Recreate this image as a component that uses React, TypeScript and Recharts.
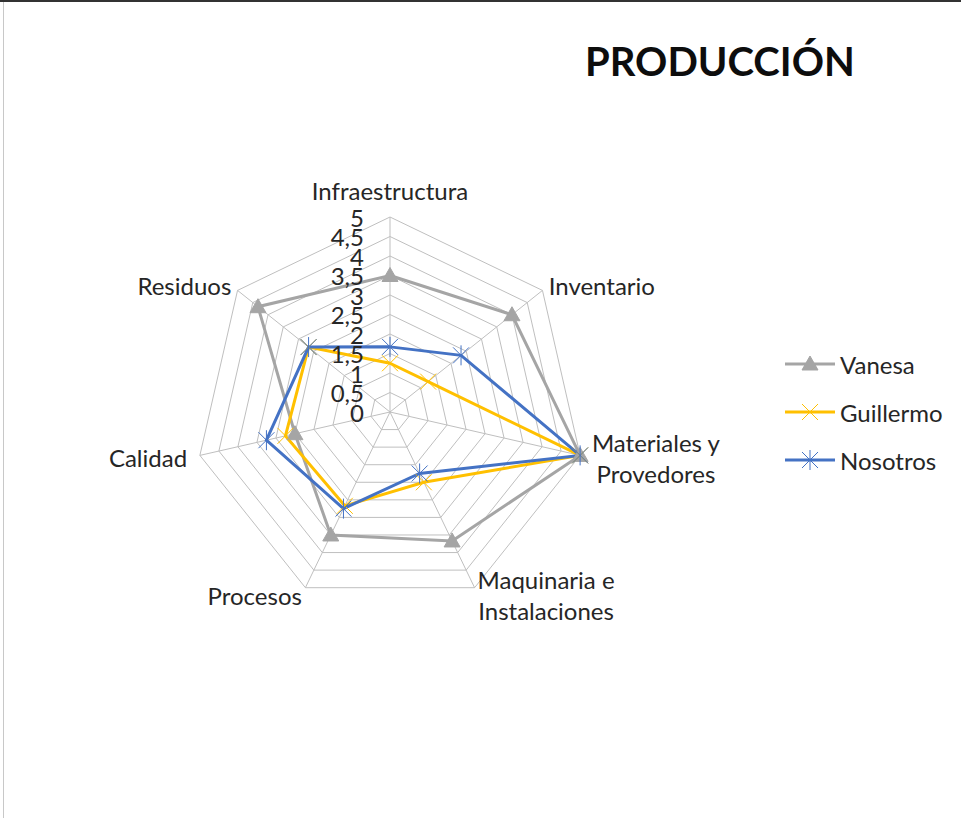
import React from "react";
import {
  RadarChart,
  Radar,
  PolarGrid,
  PolarAngleAxis,
  PolarRadiusAxis,
  Legend,
} from "recharts";

const categories = [
  "Infraestructura",
  "Inventario",
  "Materiales y Provedores",
  "Maquinaria e Instalaciones",
  "Procesos",
  "Calidad",
  "Residuos",
];
const vanesa = [3.5, 4, 5, 3.67, 3.5, 2.5, 4.33];
const guillermo = [1.25, 1.25, 5, 2, 2.67, 2.75, 2.67];
const nosotros = [1.67, 2.33, 5, 1.75, 2.75, 3.25, 2.67];
const radiusTicks = [0, 0.5, 1, 1.5, 2, 2.5, 3, 3.5, 4, 4.5, 5];

const labelLines: Record<string, string[]> = {
  "Materiales y Provedores": ["Materiales y", "Provedores"],
  "Maquinaria e Instalaciones": ["Maquinaria e", "Instalaciones"],
};

const data = categories.map((c, i) => ({
  subject: c,
  Vanesa: vanesa[i],
  Guillermo: guillermo[i],
  Nosotros: nosotros[i],
}));

const FONT = "Lato, 'Open Sans', sans-serif";
const TEXT_SIZE = 24;
const GREY = "#a5a5a5";
const YELLOW = "#ffc000";
const BLUE = "#4472c4";

const TriangleDot = (props: any) => {
  const { cx, cy, key } = props;
  if (cx == null || cy == null) return <g key={key} />;
  return (
    <path
      key={key}
      d={`M${cx},${cy - 8} L${cx + 8},${cy + 6} L${cx - 8},${cy + 6} Z`}
      fill={GREY}
      stroke={GREY}
    />
  );
};

const CrossDot = (props: any) => {
  const { cx, cy, key } = props;
  if (cx == null || cy == null) return <g key={key} />;
  const s = 8;
  return (
    <g key={key} stroke={YELLOW} strokeWidth={1}>
      <line x1={cx - s} y1={cy - s} x2={cx + s} y2={cy + s} />
      <line x1={cx - s} y1={cy + s} x2={cx + s} y2={cy - s} />
    </g>
  );
};

const StarDot = (props: any) => {
  const { cx, cy, key } = props;
  if (cx == null || cy == null) return <g key={key} />;
  const s = 8;
  return (
    <g key={key} stroke={BLUE} strokeWidth={1}>
      <line x1={cx - s} y1={cy - s} x2={cx + s} y2={cy + s} />
      <line x1={cx - s} y1={cy + s} x2={cx + s} y2={cy - s} />
      <line x1={cx} y1={cy - s - 2} x2={cx} y2={cy + s + 2} />
    </g>
  );
};

const AngleTick = (props: any) => {
  const { x, y, payload, textAnchor } = props;
  const lines = labelLines[payload.value] || [payload.value];
  const lh = 31;
  let anchor = textAnchor;
  let tx = x;
  let ty = y - ((lines.length - 1) * lh) / 2;
  if (lines.length > 1) {
    anchor = "middle";
    tx = x + 68;
  }
  if (textAnchor === "middle") ty = y - 19;
  if (payload.value === "Calidad") tx = x - 5;
  return (
    <text
      x={tx}
      y={ty}
      textAnchor={anchor}
      fontFamily={FONT}
      fontSize={TEXT_SIZE}
      fill="#262626"
      dominantBaseline="central"
    >
      {lines.map((l: string, i: number) => (
        <tspan key={i} x={tx} dy={i === 0 ? 0 : lh}>
          {l}
        </tspan>
      ))}
    </text>
  );
};

const RadiusTick = (props: any) => {
  const { x, y, payload } = props;
  return (
    <text
      x={x - 26}
      y={y}
      textAnchor="end"
      fontFamily={FONT}
      fontSize={TEXT_SIZE}
      fill="#262626"
      dominantBaseline="central"
    >
      {String(payload.value).replace(".", ",")}
    </text>
  );
};

const legendItems = [
  { name: "Vanesa", color: GREY, Dot: TriangleDot },
  { name: "Guillermo", color: YELLOW, Dot: CrossDot },
  { name: "Nosotros", color: BLUE, Dot: StarDot },
];

const LegendContent = () => (
  <svg width={180} height={150}>
    {legendItems.map((it, i) => {
      const cy = 20 + i * 48;
      return (
        <g key={it.name}>
          <line x1={5} y1={cy} x2={55} y2={cy} stroke={it.color} strokeWidth={3} />
          {it.Dot({ cx: 30, cy, key: "d" + i })}
          <text
            x={60}
            y={cy}
            fontFamily={FONT}
            fontSize={TEXT_SIZE}
            fill="#262626"
            dominantBaseline="central"
          >
            {it.name}
          </text>
        </g>
      );
    })}
  </svg>
);

export default function App() {
  return (
    <div
      style={{
        position: "absolute",
        top: 0,
        left: 0,
        width: 961,
        height: 818,
        background: "#fff",
        borderTop: "2px solid #333",
        boxSizing: "border-box",
      }}
    >
      <div
        style={{
          position: "absolute",
          left: 3,
          top: 0,
          bottom: 0,
          borderLeft: "1px solid #c8c8c8",
        }}
      />
      <div
        style={{
          position: "absolute",
          left: 585,
          top: 34,
          fontFamily: FONT,
          fontWeight: 700,
          fontSize: 40,
          color: "#0d0d0d",
          lineHeight: "50px",
        }}
      >
        PRODUCCIÓN
      </div>
      <RadarChart
        width={961}
        height={816}
        data={data}
        cx={390}
        cy={410}
        outerRadius={195}
        startAngle={90}
        endAngle={-270}
      >
        <PolarGrid gridType="polygon" stroke="#bfbfbf" strokeWidth={1} />
        <PolarAngleAxis dataKey="subject" tick={<AngleTick />} tickLine={false} axisLine={false} />
        <PolarRadiusAxis
          domain={[0, 5]}
          ticks={radiusTicks}
          angle={90}
          tick={<RadiusTick />}
          axisLine={false}
          tickLine={false}
        />
        <Radar
          name="Vanesa"
          dataKey="Vanesa"
          stroke={GREY}
          strokeWidth={3}
          fill="none"
          fillOpacity={0}
          dot={TriangleDot}
          isAnimationActive={false}
        />
        <Radar
          name="Guillermo"
          dataKey="Guillermo"
          stroke={YELLOW}
          strokeWidth={3}
          fill="none"
          fillOpacity={0}
          dot={CrossDot}
          isAnimationActive={false}
        />
        <Radar
          name="Nosotros"
          dataKey="Nosotros"
          stroke={BLUE}
          strokeWidth={3}
          fill="none"
          fillOpacity={0}
          dot={StarDot}
          isAnimationActive={false}
        />
        <Legend
          content={<LegendContent />}
          wrapperStyle={{ position: "absolute", left: 780, top: 342, width: 180 }}
        />
      </RadarChart>
    </div>
  );
}
